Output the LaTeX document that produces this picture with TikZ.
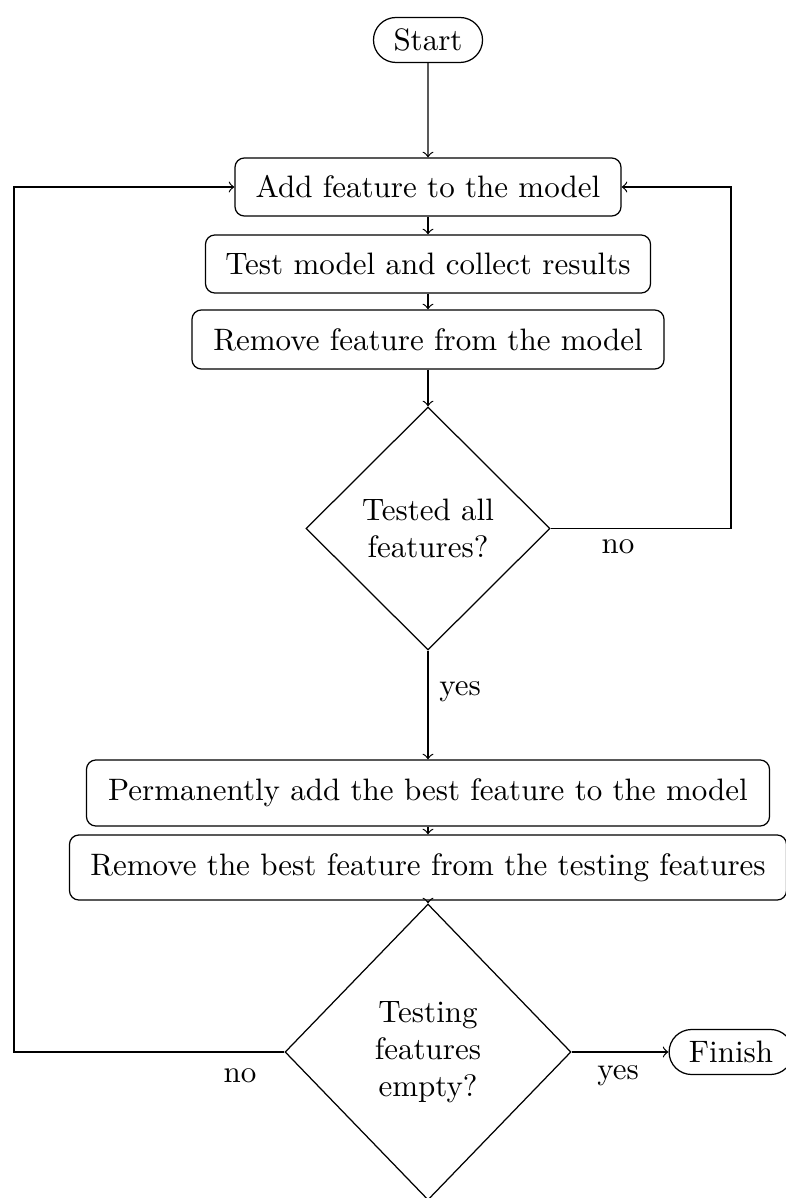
\documentclass[tikz,border=0pt]{standalone}
\usetikzlibrary{shapes.geometric,shapes.misc}
\begin{document}
\begin{tikzpicture}[x=0.3226pt,y=-0.3226pt,
  term/.style={draw,rounded rectangle,minimum height=45*0.3226pt,inner xsep=17*0.3226pt,inner ysep=0pt},
  proc/.style={draw,rectangle,rounded corners=3pt,minimum height=58*0.3226pt,inner xsep=0pt},
  dec/.style={draw,diamond,align=center,inner sep=0pt},
  lbl/.style={inner sep=1pt},
  arr/.style={->}]
\useasboundingbox (0,0) rectangle (785,1198);
\node[term] (start) at (428,40) {Start};
\node[proc,minimum width=386*0.3226pt] (add) at (428,187) {Add feature to the model};
\node[proc,minimum width=445*0.3226pt] (test) at (428,264) {Test model and collect results};
\node[proc,minimum width=472*0.3226pt,minimum height=59*0.3226pt] (rem) at (428,339.5) {Remove feature from the model};
\node[dec,minimum width=244*0.3226pt,minimum height=243*0.3226pt] (d1) at (428,528.5) {Tested all\\features?};
\node[proc,minimum width=683*0.3226pt,minimum height=66*0.3226pt] (perm) at (428,793) {Permanently add the best feature to the model};
\node[proc,minimum width=717*0.3226pt,minimum height=65*0.3226pt] (remb) at (428,867.5) {Remove the best feature from the testing features};
\node[dec,minimum width=286*0.3226pt,minimum height=296*0.3226pt] (d2) at (428,1052) {Testing\\features\\empty?};
\node[term] (fin) at (731,1052) {Finish};
\coordinate (c1) at (731,528.5);
\coordinate (c2) at (14,1052);
\draw[arr] (start) -- (add);
\draw[arr] (add) -- (test);
\draw[arr] (test) -- (rem);
\draw[arr] (rem) -- (d1);
\draw[arr] (d1.south) -- (perm.north);
\draw[arr] (perm) -- (remb);
\draw[arr] (remb.south) -- (d2.north);
\draw[arr] (d1.east) -- (c1) |- (add.east);
\draw[arr] (d2.west) -- (c2) |- (add.west);
\draw[arr] (d2.east) -- (fin.west);
\node[lbl] (no1) at (618,547) {no};
\node[lbl] (yes1) at (460,692) {yes};
\node[lbl] (no2) at (240,1076) {no};
\node[lbl] (yes2) at (618,1076) {yes};
\end{tikzpicture}
\end{document}
